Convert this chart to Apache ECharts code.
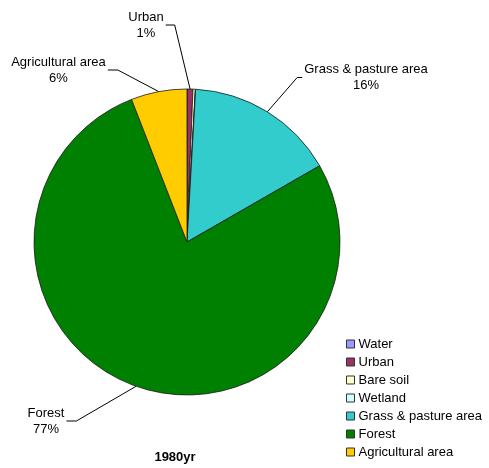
<!DOCTYPE html>
<html>
<head>
<meta charset="utf-8">
<title>Land use 1980</title>
<script src="https://cdn.jsdelivr.net/npm/echarts@6/dist/echarts.min.js"></script>
<style>
  html, body { margin: 0; padding: 0; background: #fff; }
  #chart { width: 489px; height: 468px; }
</style>
</head>
<body>
<div id="chart"></div>
<script>
// Land-use categories and their share of the area (%)
const categories = ['Water', 'Urban', 'Bare soil', 'Wetland', 'Grass & pasture area', 'Forest', 'Agricultural area'];
const areaShares = [0.02, 0.6, 0.25, 0.03, 15.8, 77.4, 5.9];
const sliceColors = ['#9999FF', '#993366', '#FFFFCC', '#CCFFFF', '#33CCCC', '#008000', '#FFCC00'];
const labelledCategories = ['Urban', 'Grass & pasture area', 'Forest', 'Agricultural area'];
const chartTitle = '1980yr';

// Pie geometry (pixels)
const pieCenter = [187, 242];
const pieRadius = 153;

// Where each callout block sits (middle of the two-line label) and which side its leader leaves from
const calloutSpots = {
  'Urban': { x: 146, y: 25, side: 'left', run: 9 },
  'Grass & pasture area': { x: 366, y: 77.5, side: 'right', run: 5 },
  'Agricultural area': { x: 58.5, y: 70, side: 'left', run: 10 },
  'Forest': { x: 46, y: 421, side: 'left', run: 10 }
};

const total = areaShares.reduce((a, b) => a + b, 0);
// Mid angle (clockwise from 12 o'clock, radians) of each slice
const midAngles = [];
let acc = 0;
areaShares.forEach(v => {
  midAngles.push(((acc + v / 2) / total) * Math.PI * 2);
  acc += v;
});

const seriesData = categories.map((name, i) => {
  const labelled = labelledCategories.indexOf(name) >= 0;
  return {
    name: name,
    value: areaShares[i],
    itemStyle: { color: sliceColors[i] },
    label: { show: labelled },
    labelLine: { show: labelled }
  };
});

const chart = echarts.init(document.getElementById('chart'), null, { renderer: 'canvas' });

chart.setOption({
  animation: false,
  backgroundColor: '#ffffff',
  title: {
    text: chartTitle,
    left: 170,
    top: 446,
    textAlign: 'center',
    textStyle: {
      fontFamily: 'Liberation Sans, Arial, sans-serif',
      fontSize: 13,
      fontWeight: 'bold',
      color: '#000'
    }
  },
  legend: {
    orient: 'vertical',
    left: 346,
    top: 337,
    padding: 0,
    height: 131,
    icon: 'rect',
    itemWidth: 8,
    itemHeight: 8,
    itemGap: 4,
    data: categories,
    itemStyle: { borderColor: '#333', borderWidth: 1 },
    textStyle: {
      fontFamily: 'Liberation Sans, Arial, sans-serif',
      fontSize: 13,
      color: '#000',
      lineHeight: 14,
      padding: [0, 0, 0, -1]
    },
    selectedMode: false
  },
  series: [{
    type: 'pie',
    center: pieCenter,
    radius: pieRadius,
    startAngle: 90,
    clockwise: true,
    avoidLabelOverlap: false,
    data: seriesData,
    itemStyle: { borderColor: '#1a1a1a', borderWidth: 0.8 },
    label: {
      position: 'outside',
      fontFamily: 'Liberation Sans, Arial, sans-serif',
      fontSize: 13,
      color: '#000',
      lineHeight: 16,
      align: 'center',
      formatter: p => p.name + '\n' + Math.round(p.percent) + '%'
    },
    labelLine: {
      show: true,
      length: 10,
      length2: 10,
      lineStyle: { color: '#000', width: 1 }
    },
    labelLayout: function (params) {
      const name = categories[params.dataIndex];
      const spot = calloutSpots[name];
      if (!spot) return {};
      const w = params.labelRect.width;
      const a = midAngles[params.dataIndex];
      const edge = [pieCenter[0] + pieRadius * Math.sin(a), pieCenter[1] - pieRadius * Math.cos(a)];
      let anchor, elbow;
      if (spot.side === 'left') {
        anchor = [spot.x + w / 2 + 2, spot.y];
        elbow = [anchor[0] + spot.run, spot.y];
      } else {
        anchor = [spot.x - w / 2 - 2, spot.y];
        elbow = [anchor[0] - spot.run, spot.y];
      }
      return {
        x: spot.x,
        y: spot.y,
        align: 'center',
        verticalAlign: 'middle',
        labelLinePoints: [edge, elbow, anchor]
      };
    }
  }]
});
</script>
</body>
</html>
